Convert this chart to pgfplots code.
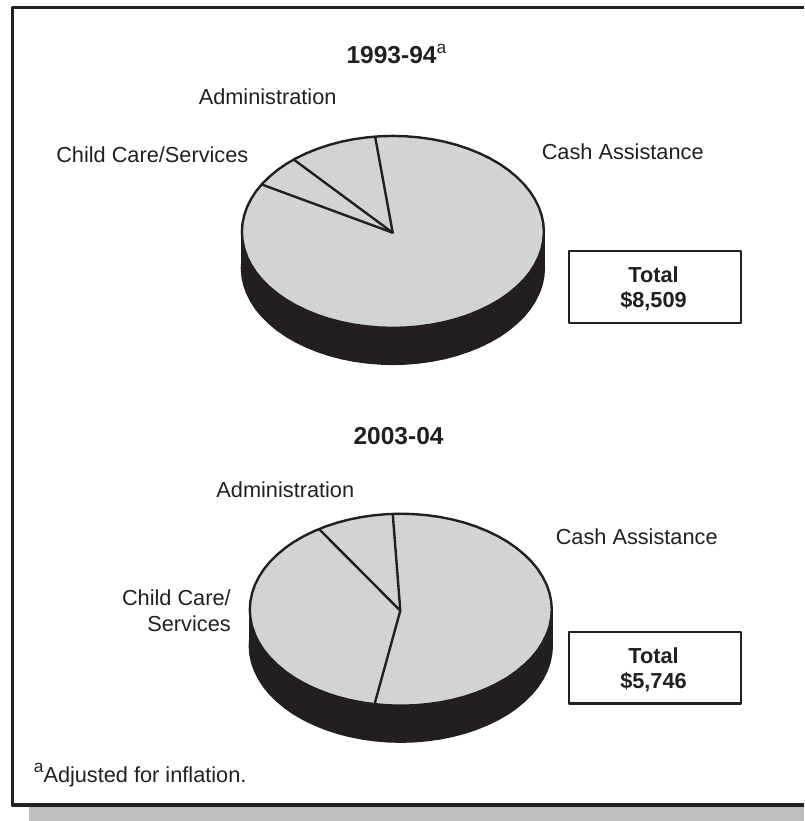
\documentclass[border=0pt]{standalone}
\usepackage{fontspec}
\setmainfont{Liberation Sans}
\usepackage{pgfplots}
\usepackage{pgfplotstable}
\pgfplotsset{compat=1.18}

\definecolor{piegray}{HTML}{D1D3D4}
\definecolor{piedark}{HTML}{231F20}
\definecolor{shadowgray}{HTML}{BCBEC0}

% rim of a pie, as offsets from its centre (pixels of the reference)
\pgfplotstableread{
dx dy
151.0 0.0
150.4 8.4
148.7 16.7
145.9 24.8
141.9 32.8
136.9 40.6
130.8 48.0
123.7 55.0
115.7 61.7
106.8 67.9
97.1 73.5
86.6 78.6
75.5 83.1
63.8 87.0
51.6 90.2
39.1 92.7
26.2 94.5
13.2 95.6
0.0 96.0
-13.2 95.6
-26.2 94.5
-39.1 92.7
-51.6 90.2
-63.8 87.0
-75.5 83.1
-86.6 78.6
-97.1 73.5
-106.8 67.9
-115.7 61.7
-123.7 55.0
-130.8 48.0
-136.9 40.6
-141.9 32.8
-145.9 24.8
-148.7 16.7
-150.4 8.4
-151.0 0.0
-150.4 -8.4
-148.7 -16.7
-145.9 -24.8
-141.9 -32.8
-136.9 -40.6
-130.8 -48.0
-123.7 -55.0
-115.7 -61.7
-106.8 -67.9
-97.1 -73.5
-86.6 -78.6
-75.5 -83.1
-63.8 -87.0
-51.6 -90.2
-39.1 -92.7
-26.2 -94.5
-13.2 -95.6
0.0 -96.0
13.2 -95.6
26.2 -94.5
39.1 -92.7
51.6 -90.2
63.8 -87.0
75.5 -83.1
86.6 -78.6
97.1 -73.5
106.8 -67.9
115.7 -61.7
123.7 -55.0
130.8 -48.0
136.9 -40.6
141.9 -32.8
145.9 -24.8
148.7 -16.7
150.4 -8.4
151.0 0.0
}\rim

% #1 centre x, #2 centre y, #3 depth
\newcommand{\drawpie}[3]{
  \addplot[piedark, fill=piedark, line width=1.8pt] table[x expr={\thisrow{dx}+#1}, y expr={\thisrow{dy}+#2+#3}] {\rim};
  \addplot[piedark, fill=piedark, line width=1.8pt] coordinates {(#1-151,#2) (#1+151,#2) (#1+151,#2+#3) (#1-151,#2+#3)} --cycle;
  \addplot[piedark, fill=piegray, line width=1.8pt] table[x expr={\thisrow{dx}+#1}, y expr={\thisrow{dy}+#2}] {\rim};
}

\newcommand{\lbl}{\fontsize{16.3}{19}\selectfont\color{piedark}}
\newcommand{\ttl}{\fontsize{18.4}{22}\selectfont\bfseries\color{piedark}}
\newcommand{\supa}{\raisebox{7.5pt}{\mdseries\fontsize{13}{13}\selectfont a}}
\tikzset{
  txt/.style={font=\lbl, inner sep=0pt, anchor=base west},
  txtr/.style={font=\lbl, inner sep=0pt, anchor=base east},
  tot/.style={font=\lbl\bfseries, inner sep=0pt, anchor=base},
  head/.style={font=\ttl, inner sep=0pt, anchor=base west},
}

\begin{document}
\begin{tikzpicture}
\begin{axis}[
  scale only axis,
  width=603pt,
  height=615.75pt,
  xmin=0, xmax=804,
  ymin=0, ymax=821,
  y dir=reverse,
  axis lines=none,
  no markers,
  line join=round,
]
% keeps the whole page in the bounding box
\addplot[draw=none] coordinates {(0,0) (804,821)};
% page shadow and frame
\addplot[draw=none, fill=shadowgray] coordinates {(29,806) (804,806) (804,821) (29,821)} --cycle;
\addplot[piedark, line width=2.4pt] coordinates {(804,7.5) (12.5,7.5) (12.5,805) (804,805)};

\drawpie{392.9}{231.9}{36}
\addplot[piedark, line width=1.8pt] coordinates {(375,136) (392.7,232.7) (294.3,160)};
\addplot[piedark, line width=1.8pt] coordinates {(392.7,232.7) (262.3,184.7)};

\drawpie{400.8}{609.7}{36}
\addplot[piedark, line width=1.8pt] coordinates {(392.7,513.3) (400.3,610.7) (319,529)};
\addplot[piedark, line width=1.8pt] coordinates {(400.3,610.7) (374.3,705)};

% total boxes
\addplot[piedark, fill=white, line width=1.8pt] coordinates {(569.2,251) (741,251) (741,323) (569.2,323)} --cycle;
\addplot[piedark, fill=white, line width=1.8pt] coordinates {(569.2,632) (741,632) (741,703.5) (569.2,703.5)} --cycle;

\node[head] at (axis cs:346.3,63.3) {1993-94\supa};
\node[txt] at (axis cs:198.5,104) {Administration};
\node[txt] at (axis cs:56,162.3) {Child Care/Services};
\node[txt] at (axis cs:541.5,159) {Cash Assistance};
\node[tot] at (axis cs:653.5,282.3) {Total};
\node[tot] at (axis cs:653.5,307.7) {\$8,509};

\node[head] at (axis cs:353.3,444) {2003-04};
\node[txt] at (axis cs:216.2,497.3) {Administration};
\node[txt] at (axis cs:555.5,544.5) {Cash Assistance};
\node[txtr] at (axis cs:231,605.5) {Child Care/};
\node[txtr] at (axis cs:231,631.5) {Services};
\node[tot] at (axis cs:653.5,663.3) {Total};
\node[tot] at (axis cs:653.5,688.5) {\$5,746};

\node[txt] at (axis cs:33.6,782.7) {\supa Adjusted for inflation.};
\end{axis}
\end{tikzpicture}
\end{document}
